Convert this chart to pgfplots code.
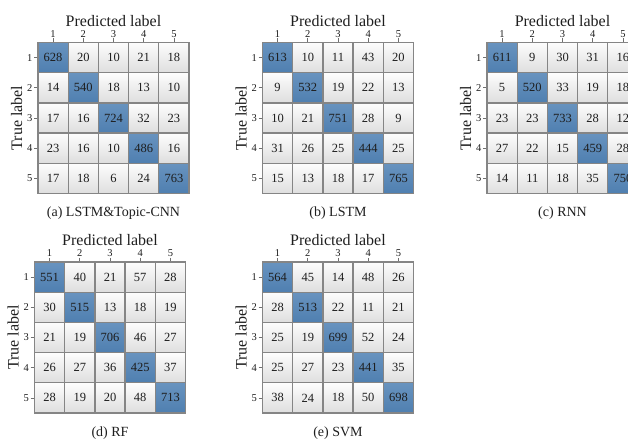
\documentclass[border=0pt]{standalone}
\usepackage{fontspec}
\setmainfont{Liberation Serif}
\usepackage{pgfplots}
\pgfplotsset{compat=1.18}
\usepackage{pgfplotstable}

\definecolor{cellline}{HTML}{858585}
\definecolor{tickgray}{HTML}{707070}
\definecolor{offtop}{HTML}{FDFDFD}
\definecolor{offbot}{HTML}{DEDEDE}
\definecolor{diagtop}{HTML}{6893BF}
\definecolor{diagbot}{HTML}{4F7FB0}
\definecolor{numtext}{HTML}{1E1E1E}

% confusion matrices: pred = predicted label, true = true label, n = count
\pgfplotstableread[row sep=\\]{
pred true n\\
1 1 628\\ 2 1 20\\ 3 1 10\\ 4 1 21\\ 5 1 18\\
1 2 14\\ 2 2 540\\ 3 2 18\\ 4 2 13\\ 5 2 10\\
1 3 17\\ 2 3 16\\ 3 3 724\\ 4 3 32\\ 5 3 23\\
1 4 23\\ 2 4 16\\ 3 4 10\\ 4 4 486\\ 5 4 16\\
1 5 17\\ 2 5 18\\ 3 5 6\\ 4 5 24\\ 5 5 763\\
}\cmLSTMCNN

\pgfplotstableread[row sep=\\]{
pred true n\\
1 1 613\\ 2 1 10\\ 3 1 11\\ 4 1 43\\ 5 1 20\\
1 2 9\\ 2 2 532\\ 3 2 19\\ 4 2 22\\ 5 2 13\\
1 3 10\\ 2 3 21\\ 3 3 751\\ 4 3 28\\ 5 3 9\\
1 4 31\\ 2 4 26\\ 3 4 25\\ 4 4 444\\ 5 4 25\\
1 5 15\\ 2 5 13\\ 3 5 18\\ 4 5 17\\ 5 5 765\\
}\cmLSTM

\pgfplotstableread[row sep=\\]{
pred true n\\
1 1 611\\ 2 1 9\\ 3 1 30\\ 4 1 31\\ 5 1 16\\
1 2 5\\ 2 2 520\\ 3 2 33\\ 4 2 19\\ 5 2 18\\
1 3 23\\ 2 3 23\\ 3 3 733\\ 4 3 28\\ 5 3 12\\
1 4 27\\ 2 4 22\\ 3 4 15\\ 4 4 459\\ 5 4 28\\
1 5 14\\ 2 5 11\\ 3 5 18\\ 4 5 35\\ 5 5 750\\
}\cmRNN

\pgfplotstableread[row sep=\\]{
pred true n\\
1 1 551\\ 2 1 40\\ 3 1 21\\ 4 1 57\\ 5 1 28\\
1 2 30\\ 2 2 515\\ 3 2 13\\ 4 2 18\\ 5 2 19\\
1 3 21\\ 2 3 19\\ 3 3 706\\ 4 3 46\\ 5 3 27\\
1 4 26\\ 2 4 27\\ 3 4 36\\ 4 4 425\\ 5 4 37\\
1 5 28\\ 2 5 19\\ 3 5 20\\ 4 5 48\\ 5 5 713\\
}\cmRF

\pgfplotstableread[row sep=\\]{
pred true n\\
1 1 564\\ 2 1 45\\ 3 1 14\\ 4 1 48\\ 5 1 26\\
1 2 28\\ 2 2 513\\ 3 2 22\\ 4 2 11\\ 5 2 21\\
1 3 25\\ 2 3 19\\ 3 3 699\\ 4 3 52\\ 5 3 24\\
1 4 25\\ 2 4 27\\ 3 4 23\\ 4 4 441\\ 5 4 35\\
1 5 38\\ 2 5 24\\ 3 5 18\\ 4 5 50\\ 5 5 698\\
}\cmSVM

\tikzset{
  cell/.style={rectangle, draw=cellline, line width=1.3pt,
    minimum width=30.2pt, minimum height=30.2pt, inner sep=0pt,
    anchor=center, font=\fontsize{12.5}{12.5}\selectfont, text=numtext},
  caption/.style={font=\fontsize{14}{14}\selectfont, text=numtext,
    anchor=center, yshift=-20pt},
}

\pgfplotsset{
  /pgf/number format/assume math mode=true,
  cmat/.style={
    x=30.2pt, y=30.2pt,
    xmin=0.5, xmax=5.5, ymin=0.5, ymax=5.5,
    xtick={1,2,3,4,5}, ytick={1,2,3,4,5},
    xticklabels={1,2,3,4,5}, yticklabels={5,4,3,2,1},
    xtick pos=right, xticklabel pos=right,
    ytick pos=left,
    tick align=outside,
    major tick length=4pt,
    tick style={draw=tickgray, line width=0.7pt},
    axis line style={draw=cellline, line width=1.3pt},
    ticklabel style={font=\fontsize{10.5}{10.5}\selectfont, text=numtext},
    xticklabel style={inner sep=1pt},
    yticklabel style={inner sep=1.5pt},
    xlabel={Predicted label}, ylabel={True label},
    label style={font=\fontsize{16}{16}\selectfont, text=numtext},
    xlabel style={inner sep=2.5pt},
    ylabel style={inner sep=3pt},
    clip=false,
    anchor=north west,
  },
  offcell/.style={only marks, mark=none, point meta=explicit,
    nodes near coords,
    restrict expr to domain={abs(\thisrow{pred}-\thisrow{true})}{0.5:9},
    every node near coord/.append style={cell, top color=offtop, bottom color=offbot}},
  diagcell/.style={only marks, mark=none, point meta=explicit,
    nodes near coords,
    restrict expr to domain={\thisrow{pred}-\thisrow{true}}{-0.5:0.5},
    every node near coord/.append style={cell, top color=diagtop, bottom color=diagbot}},
}

\newcommand{\cmplot}[1]{%
  \addplot[offcell] table[x=pred, y expr=6-\thisrow{true}, meta=n] {#1};
  \addplot[diagcell] table[x=pred, y expr=6-\thisrow{true}, meta=n] {#1};
}

\begin{document}
\begin{tikzpicture}
\path[use as bounding box, clip] (0,0) rectangle (628pt,439pt);

\begin{axis}[cmat, at={(38pt,396.5pt)}]
\cmplot{\cmLSTMCNN}
\node[caption] at (axis description cs:0.5,0) {(a) LSTM\&Topic-CNN};
\end{axis}

\begin{axis}[cmat, at={(262.5pt,396.5pt)}]
\cmplot{\cmLSTM}
\node[caption] at (axis description cs:0.5,0) {(b) LSTM};
\end{axis}

\begin{axis}[cmat, at={(487pt,396.5pt)}]
\cmplot{\cmRNN}
\node[caption] at (axis description cs:0.5,0) {(c) RNN};
\end{axis}

\begin{axis}[cmat, at={(34.5pt,177pt)}]
\cmplot{\cmRF}
\node[caption] at (axis description cs:0.5,0) {(d) RF};
\end{axis}

\begin{axis}[cmat, at={(262.5pt,177pt)}]
\cmplot{\cmSVM}
\node[caption] at (axis description cs:0.5,0) {(e) SVM};
\end{axis}
\end{tikzpicture}
\end{document}
